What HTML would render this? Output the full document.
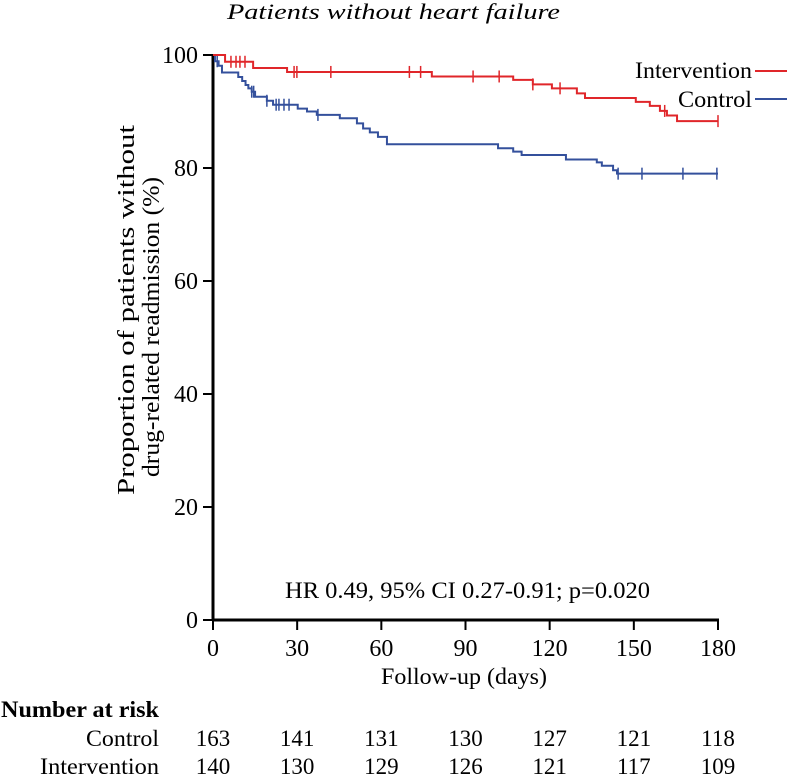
<!DOCTYPE html>
<html><head><meta charset="utf-8"><style>
body{margin:0;background:#fff}
svg{display:block;font-family:"Liberation Serif",serif}
</style></head><body>
<svg id="c" width="788" height="777" viewBox="0 0 788 777">
<text x="227" y="19" textLength="333" lengthAdjust="spacingAndGlyphs" font-size="22" font-style="italic">Patients without heart failure</text>
<g id="axes"></g><g id="series"></g>
<text x="285" y="598" textLength="365" lengthAdjust="spacingAndGlyphs" font-size="23">HR 0.49, 95% CI 0.27-0.91; p=0.020</text>
<text x="381" y="684" textLength="166" lengthAdjust="spacingAndGlyphs" font-size="23">Follow-up (days)</text>
<text transform="translate(134,495) rotate(-90)" textLength="370" lengthAdjust="spacingAndGlyphs" font-size="24">Proportion of patients without</text>
<text transform="translate(159,477) rotate(-90)" textLength="300" lengthAdjust="spacingAndGlyphs" font-size="24">drug-related readmission (%)</text>
<text x="635" y="78" textLength="117" lengthAdjust="spacingAndGlyphs" font-size="23">Intervention</text>
<line x1="755" y1="71" x2="787" y2="71" stroke="#e0262a" stroke-width="2"/>
<text x="678" y="107" textLength="74" lengthAdjust="spacingAndGlyphs" font-size="23">Control</text>
<line x1="755" y1="99" x2="787" y2="99" stroke="#34509c" stroke-width="2"/>
<text x="1" y="717" textLength="158" lengthAdjust="spacingAndGlyphs" font-size="23" font-weight="bold">Number at risk</text>
<text x="86" y="746" textLength="73" lengthAdjust="spacingAndGlyphs" font-size="23">Control</text>
<text x="40" y="774" textLength="119" lengthAdjust="spacingAndGlyphs" font-size="23">Intervention</text>
<g id="risk"></g>
</svg>
<script>
const xTicks=[0,30,60,90,120,150,180];
const yTicks=[0,20,40,60,80,100];
const riskControl=[163,141,131,130,127,121,118];
const riskIntervention=[140,130,129,126,121,117,109];
const intTimes=[0,4.3,14.3,26.4,78,107,114,120.8,129.7,132.6,150.7,155.7,159.3,161.8,165.4,180];
const intVals=[100,98.8,97.7,97.0,96.2,95.6,94.8,94.1,93.2,92.4,91.7,91.0,90.1,89.3,88.3,88.3];
const intCens=[6.4,8.2,9.6,11.4,28.9,29.9,42,70,74,92.7,102,114,123.7,161,180];
const ctlTimes=[0,0.7,2,3.2,9,10.4,11.6,12.6,13.8,15,19.2,21.4,30.2,33.5,37,45.2,51.3,53.5,55.9,58.8,62,101.6,107,110,125.8,136.8,138.6,142.6,144,180];
const ctlVals=[100,98.9,98.1,96.9,96.1,95.4,94.7,94.1,93.5,92.6,91.9,91.2,90.5,90.0,89.4,88.8,87.9,87.0,86.3,85.5,84.2,83.5,82.9,82.3,81.5,81.0,80.4,79.6,79.0,79.0];
const ctlCens=[1.5,13.8,14.5,19.2,22.5,23.5,25.3,27.1,37.4,144.4,152.9,167.5,179.6];
const X=d=>213+d*505/180, Y=v=>620-v*5.65;
const NS='http://www.w3.org/2000/svg';
function mk(t,a,p){const e=document.createElementNS(NS,t);for(const k in a)e.setAttribute(k,a[k]);p.appendChild(e);return e;}
const ax=document.getElementById('axes');
let e=mk('line',{x1:213,y1:55,x2:213,y2:621,stroke:'#000','stroke-width':3},ax);


e=mk('line',{x1:212,y1:620,x2:719,y2:620,stroke:'#000','stroke-width':3},ax);


yTicks.forEach(v=>{mk('line',{x1:203,y1:Y(v),x2:213,y2:Y(v),stroke:'#000','stroke-width':2},ax);
const t=mk('text',{x:198,y:Y(v)+8,'text-anchor':'end','font-size':24},ax);t.textContent=v;

});
xTicks.forEach((d,i)=>{mk('line',{x1:X(d),y1:620,x2:X(d),y2:630,stroke:'#000','stroke-width':2},ax);
const t=mk('text',{x:X(d),y:656,'text-anchor':'middle','font-size':24},ax);t.textContent=d;


const r=document.getElementById('risk');
const a=mk('text',{x:X(d),y:746,'text-anchor':'middle','font-size':23},r);a.textContent=riskControl[i];


const b=mk('text',{x:X(d),y:774,'text-anchor':'middle','font-size':23},r);b.textContent=riskIntervention[i];

});
function stepVal(ts,vs,t){let v=vs[0];for(let i=0;i<ts.length;i++)if(ts[i]<=t)v=vs[i];return v;}
function draw(ts,vs,cs,col,name){const g=document.getElementById('series');
let d='M'+X(ts[0])+','+Y(vs[0]);
for(let i=1;i<ts.length;i++){d+='H'+X(ts[i])+'V'+Y(vs[i]);}
const p=mk('path',{d:d,fill:'none',stroke:col,'stroke-width':2},g);


cs.forEach(c=>{const y=Y(stepVal(ts,vs,c));const l=mk('line',{x1:X(c),y1:y-6,x2:X(c),y2:y+6,stroke:col,'stroke-width':1.5},g);

});}
draw(ctlTimes,ctlVals,ctlCens,'#34509c','control');
draw(intTimes,intVals,intCens,'#e0262a','intervention');
</script>
</body></html>
